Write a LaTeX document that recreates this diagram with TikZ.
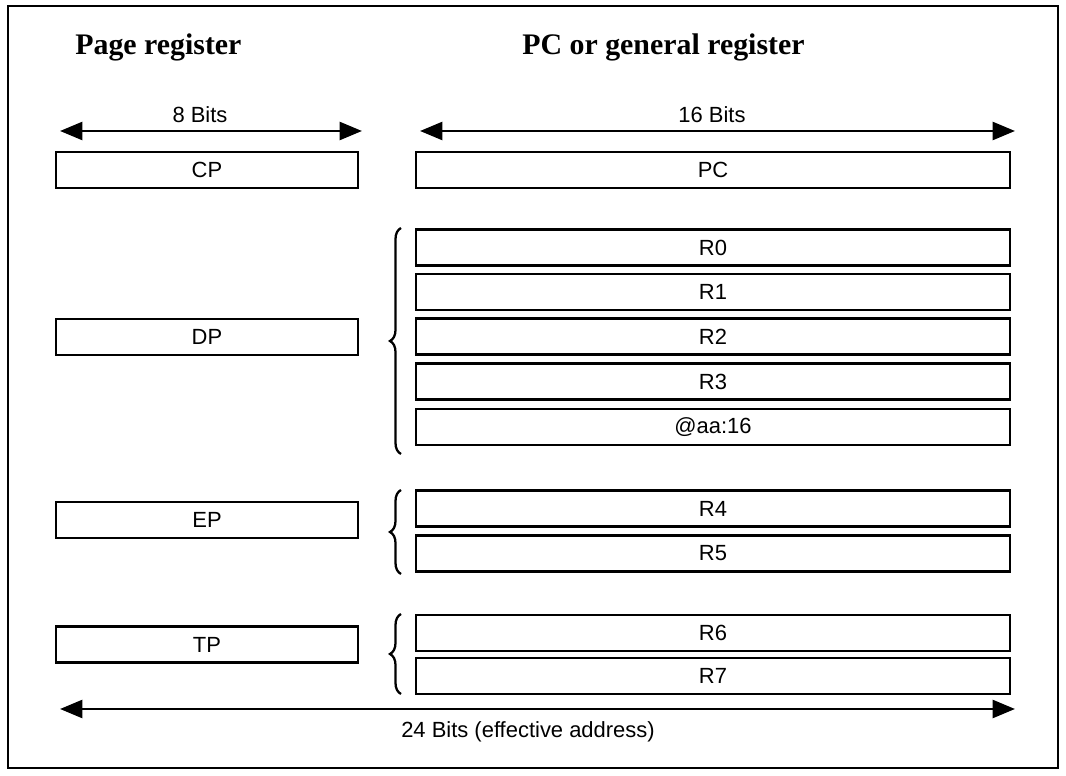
\documentclass[tikz,border=0pt]{standalone}
\usepackage{fontspec}
\setmainfont{Liberation Sans}
\newfontfamily\titlefont{Liberation Serif}
\usetikzlibrary{arrows.meta,decorations.pathreplacing}

\tikzset{
    reg/.style={draw, line width=1.4pt, minimum height=0.72cm, inner sep=0pt, font=\fontsize{12.5}{14}\selectfont},
    pagereg/.style={reg, minimum width=6.04cm},
    genreg/.style={reg, minimum width=11.88cm},
    bitarrow/.style={line width=1.6pt, {Triangle[length=0.45cm,width=0.36cm]}-{Triangle[length=0.45cm,width=0.36cm]}},
    bitlabel/.style={font=\fontsize{12.5}{14}\selectfont},
    heading/.style={font=\titlefont\bfseries\fontsize{17}{20}\selectfont, anchor=west, inner sep=0pt},
    regbrace/.style={decorate, decoration={brace, amplitude=0.22cm}, line width=1.3pt}
}

\begin{document}
\begin{tikzpicture}[x=0.02cm, y=-0.02cm]
    \useasboundingbox (0,0) rectangle (1066,776);

    % Outer frame
    \draw[line width=1.2pt] (8,6) rectangle (1058,768);

    % Headings
    \node[heading] (pagetitle) at (75,47) {Page register};
    \node[heading] (gentitle) at (522,47) {PC or general register};

    % Width arrows
    \coordinate (eightl) at (60,131);
    \coordinate (eightr) at (362,131);
    \draw[bitarrow] (eightl) -- (eightr);
    \node[bitlabel] (eightlabel) at (200,115) {8 Bits};
    \coordinate (sixteenl) at (420,131);
    \coordinate (sixteenr) at (1015,131);
    \draw[bitarrow] (sixteenl) -- (sixteenr);
    \node[bitlabel] (sixteenlabel) at (712,115) {16 Bits};

    % Page registers
    \node[pagereg] (cp) at (207,170) {CP};
    \node[pagereg] (dp) at (207,337) {DP};
    \node[pagereg] (ep) at (207,520) {EP};
    \node[pagereg] (tp) at (207,644.5) {TP};

    % PC and general registers
    \node[genreg] (pc) at (713,170) {PC};
    \node[genreg] (r0) at (713,247.5) {R0};
    \node[genreg] (r1) at (713,292) {R1};
    \node[genreg] (r2) at (713,336.5) {R2};
    \node[genreg] (r3) at (713,381.5) {R3};
    \node[genreg] (aa) at (713,427) {@aa:16};
    \node[genreg] (r4) at (713,508.5) {R4};
    \node[genreg] (r5) at (713,553.5) {R5};
    \node[genreg] (r6) at (713,633) {R6};
    \node[genreg] (r7) at (713,676) {R7};

    % Braces grouping the registers
    \draw[regbrace] (401,454) -- (401,228);
    \draw[regbrace] (401,574) -- (401,490);
    \draw[regbrace] (401,694) -- (401,614);

    % Effective address arrow
    \coordinate (addrl) at (60,709);
    \coordinate (addrr) at (1015,709);
    \draw[bitarrow] (addrl) -- (addrr);
    \node[bitlabel] (addrlabel) at (528,732) {24 Bits (effective address)};
\end{tikzpicture}
\end{document}
